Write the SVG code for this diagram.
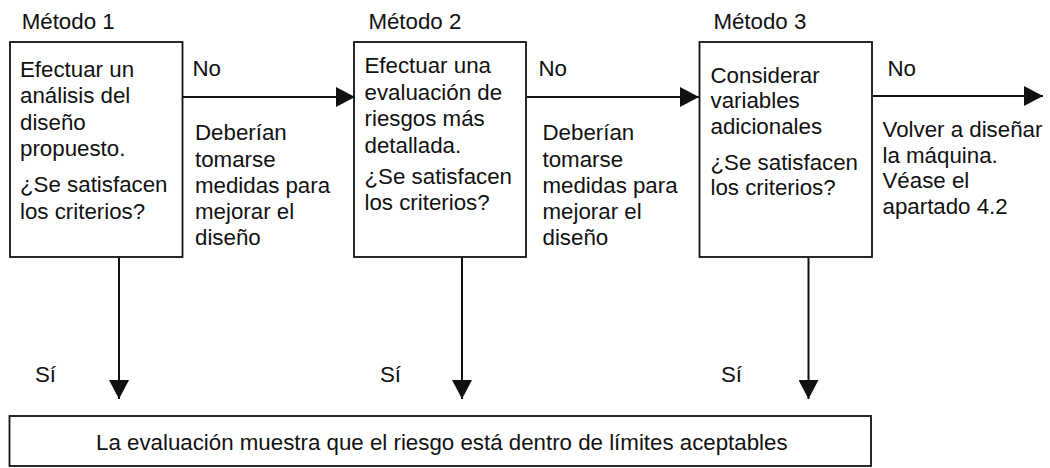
<svg xmlns="http://www.w3.org/2000/svg" width="1050" height="468" viewBox="0 0 1050 468">
<style>
text{font-family:"Liberation Sans",Arial,sans-serif;font-size:22.3px;fill:#111}
.box{fill:#fff;stroke:#111;stroke-width:1.8}
.con{stroke:#111;stroke-width:2;fill:none;marker-end:url(#ah)}
</style>
<defs>
<marker id="ah" viewBox="0 0 19 20" refX="19" refY="10" markerWidth="19" markerHeight="20" markerUnits="userSpaceOnUse" orient="auto">
<path d="M0,0 L19,10 L0,20 z" fill="#111"/>
</marker>
</defs>
<rect width="1050" height="468" fill="#fff"/>

<g id="m1">
<text x="21.7" y="28.5">Método 1</text>
<rect class="box" x="10" y="42" width="172.5" height="215"/>
<text x="20" y="76.7">Efectuar un</text>
<text x="20" y="103">análisis del</text>
<text x="20" y="129.5">diseño</text>
<text x="20" y="156">propuesto.</text>
<text x="20" y="192">¿Se satisfacen</text>
<text x="20" y="218.5">los criterios?</text>
</g>

<g id="m2">
<text x="368.4" y="28.5">Método 2</text>
<rect class="box" x="354" y="42" width="172" height="215"/>
<text x="364.5" y="73.3">Efectuar una</text>
<text x="364.5" y="100">evaluación de</text>
<text x="364.5" y="126.3">riesgos más</text>
<text x="364.5" y="152.7">detallada.</text>
<text x="364.5" y="184.3">¿Se satisfacen</text>
<text x="364.5" y="210">los criterios?</text>
</g>

<g id="m3">
<text x="713.4" y="28.5">Método 3</text>
<rect class="box" x="699.5" y="42" width="172.5" height="215"/>
<text x="710.5" y="82.7">Considerar</text>
<text x="710.5" y="108.3">variables</text>
<text x="710.5" y="134.3">adicionales</text>
<text x="710.5" y="170">¿Se satisfacen</text>
<text x="710.5" y="195">los criterios?</text>
</g>

<g id="result">
<rect class="box" x="9.5" y="416" width="861.5" height="50"/>
<text x="96" y="450">La evaluación muestra que el riesgo está dentro de límites aceptables</text>
</g>

<g id="connectors">
<line class="con" x1="183" y1="97" x2="355" y2="97"/>
<line class="con" x1="527" y1="97" x2="699" y2="97"/>
<line class="con" x1="873" y1="96" x2="1043" y2="96"/>
<line class="con" x1="119" y1="258" x2="119" y2="399"/>
<line class="con" x1="462" y1="258" x2="462" y2="399"/>
<line class="con" x1="808.5" y1="258" x2="808.5" y2="399"/>
</g>

<g id="labels">
<text x="192.5" y="76">No</text>
<text x="538.5" y="76">No</text>
<text x="887.5" y="76">No</text>
<text x="195" y="140">Deberían</text>
<text x="195" y="166.5">tomarse</text>
<text x="195" y="193">medidas para</text>
<text x="195" y="219">mejorar el</text>
<text x="195" y="245">diseño</text>
<text x="542.5" y="140">Deberían</text>
<text x="542.5" y="166.5">tomarse</text>
<text x="542.5" y="193">medidas para</text>
<text x="542.5" y="219">mejorar el</text>
<text x="542.5" y="245">diseño</text>
<text x="882.5" y="137">Volver a diseñar</text>
<text x="882.5" y="162.5">la máquina.</text>
<text x="882.5" y="188">Véase el</text>
<text x="882.5" y="213.5">apartado 4.2</text>
<text x="35" y="381.7">Sí</text>
<text x="380" y="381.7">Sí</text>
<text x="721" y="381.7">Sí</text>
</g>
</svg>
